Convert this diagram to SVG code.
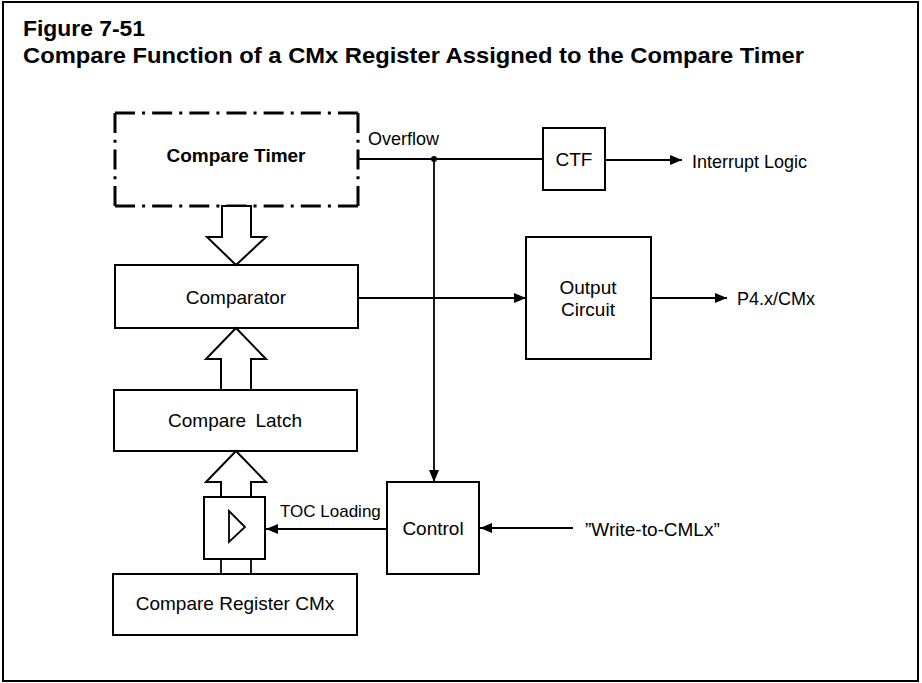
<svg xmlns="http://www.w3.org/2000/svg" width="922" height="683" viewBox="0 0 922 683">
<style>
text{font-family:"Liberation Sans",Arial,Helvetica,sans-serif;fill:#000}
.t{font-size:22px;font-weight:bold}
.b{font-size:19px}
.l{font-size:18px}
.box{fill:#fff;stroke:#000;stroke-width:2}
.ln{fill:none;stroke:#000;stroke-width:1.8}
.dd{fill:none;stroke:#000;stroke-width:3;stroke-linecap:butt}
.hol{fill:#fff;stroke:#000;stroke-width:2;stroke-linejoin:miter}
</style>
<defs>
<marker id="ah" markerWidth="12" markerHeight="10" refX="12" refY="5" orient="auto" markerUnits="userSpaceOnUse">
<path d="M0,0 L12,5 L0,10 Z" fill="#000"/>
</marker>
</defs>
<rect x="0" y="0" width="922" height="683" fill="#fff"/>
<rect x="3" y="2" width="915" height="679" fill="none" stroke="#000" stroke-width="2"/>
<text class="t" x="23" y="36" textLength="122" lengthAdjust="spacingAndGlyphs">Figure 7-51</text>
<text class="t" x="23" y="63" textLength="781" lengthAdjust="spacingAndGlyphs">Compare Function of a CMx Register Assigned to the Compare Timer</text>

<g id="compare-timer">
<line class="dd" x1="115" y1="113" x2="358" y2="113" stroke-dasharray="20 7.08 3 7.08"/>
<line class="dd" x1="115" y1="206" x2="358" y2="206" stroke-dasharray="20 7.08 3 7.08"/>
<line class="dd" x1="115" y1="113" x2="115" y2="206" stroke-dasharray="20 6.75 3 6.75"/>
<line class="dd" x1="358" y1="113" x2="358" y2="206" stroke-dasharray="20 6.75 3 6.75"/>
<text class="b" x="236" y="162" text-anchor="middle" font-weight="bold">Compare Timer</text>
</g>

<g id="comparator">
<rect class="box" x="115" y="265" width="243" height="63"/>
<text class="b" x="236" y="304" text-anchor="middle">Comparator</text>
</g>

<g id="compare-latch">
<rect class="box" x="114" y="390" width="243" height="61"/>
<text class="b" x="235" y="427" text-anchor="middle" word-spacing="4">Compare Latch</text>
</g>

<g id="buffer">
<rect class="box" x="204" y="497" width="61" height="62"/>
<path d="M229,511 L245,527 L229,542 Z" fill="none" stroke="#000" stroke-width="1.8"/>
</g>

<g id="compare-register">
<rect class="box" x="113" y="574" width="244" height="61"/>
<text class="b" x="235" y="610" text-anchor="middle">Compare Register CMx</text>
</g>

<g id="ctf">
<rect class="box" x="543" y="128" width="62" height="62"/>
<text class="b" x="574" y="166" text-anchor="middle">CTF</text>
</g>

<g id="output-circuit">
<rect class="box" x="526" y="237" width="125" height="122"/>
<text class="b" x="588" y="294" text-anchor="middle">Output</text>
<text class="b" x="588" y="316" text-anchor="middle">Circuit</text>
</g>

<g id="control">
<rect class="box" x="387" y="482" width="92" height="92"/>
<text class="b" x="433" y="535" text-anchor="middle">Control</text>
</g>

<g id="connectors">
<polygon class="hol" points="222,206 222,237 207,237 236,265 266,237 251,237 251,206"/>
<polygon class="hol" points="221,390 221,359 206,359 236,328 266,359 251,359 251,390"/>
<polygon class="hol" points="221,497 221,482 206,482 236,451 266,482 251,482 251,497"/>
<line class="ln" x1="221" y1="559" x2="221" y2="574"/>
<line class="ln" x1="251" y1="559" x2="251" y2="574"/>
<line class="ln" x1="358" y1="159" x2="543" y2="159"/>
<circle cx="434" cy="159" r="3" fill="#000"/>
<line class="ln" x1="434" y1="159" x2="434" y2="482" marker-end="url(#ah)"/>
<line class="ln" x1="605" y1="160" x2="682" y2="160" marker-end="url(#ah)"/>
<line class="ln" x1="358" y1="298" x2="526" y2="298" marker-end="url(#ah)"/>
<line class="ln" x1="651" y1="298" x2="727" y2="298" marker-end="url(#ah)"/>
<line class="ln" x1="387" y1="529" x2="266" y2="529" marker-end="url(#ah)"/>
<line class="ln" x1="573" y1="528" x2="480" y2="528" marker-end="url(#ah)"/>
<text class="l" x="368" y="145">Overflow</text>
<text class="l" x="692" y="168">Interrupt Logic</text>
<text class="l" x="737" y="305">P4.x/CMx</text>
<text x="280" y="517" style="font-size:17px">TOC Loading</text>
<text class="b" x="585" y="536">”Write-to-CMLx”</text>
</g>
</svg>
